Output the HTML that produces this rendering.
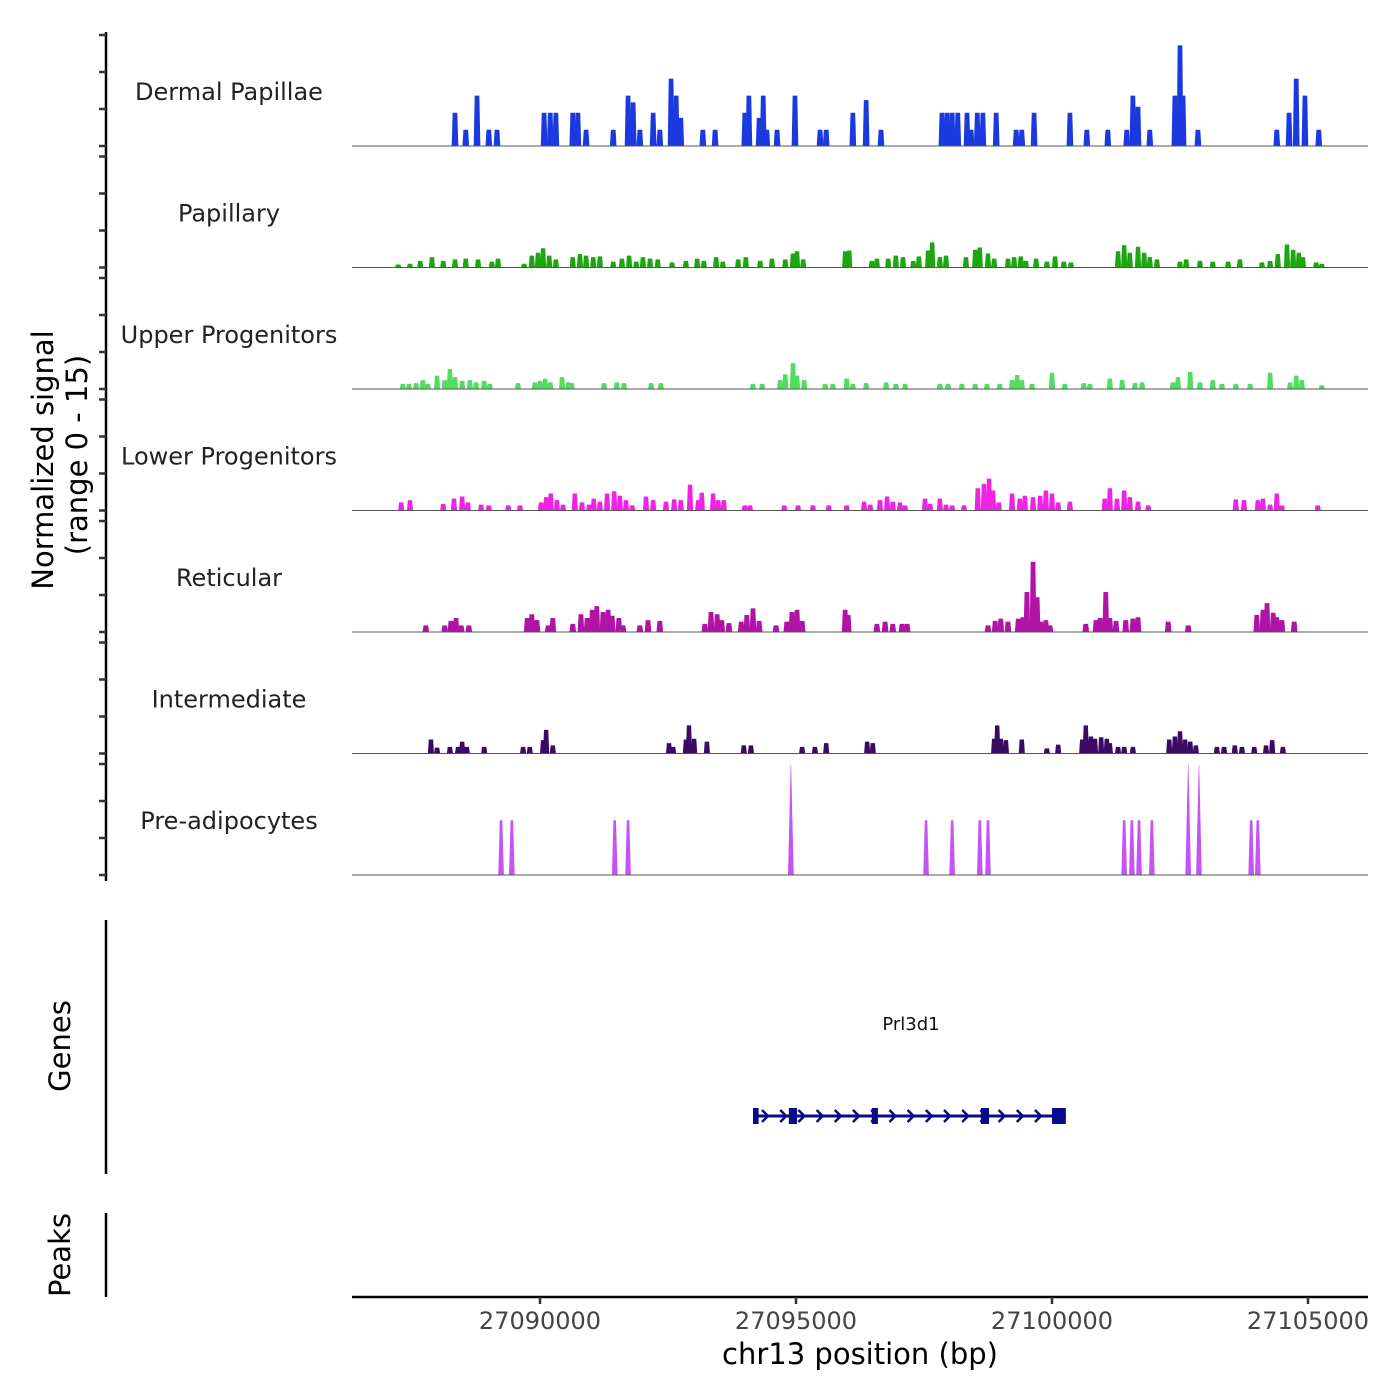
<!DOCTYPE html>
<html><head><meta charset="utf-8">
<style>
html,body{margin:0;padding:0;background:#fff;}
svg{display:block;font-family:"DejaVu Sans","Liberation Sans",sans-serif;}
</style></head>
<body>
<svg id="chart" width="1400" height="1400" viewBox="0 0 1400 1400" xmlns="http://www.w3.org/2000/svg">
<rect width="1400" height="1400" fill="#fff"/>
<g id="tracks"></g>
<line x1="106" y1="32" x2="106" y2="881" stroke="#000" stroke-width="2.5"/>
<g id="yticks"></g>
<text transform="translate(53,460) rotate(-90)" text-anchor="middle" font-size="29" fill="#000">Normalized signal</text>
<text transform="translate(87,455) rotate(-90)" text-anchor="middle" font-size="29" fill="#000">(range 0 - 15)</text>
<line x1="106" y1="920" x2="106" y2="1174" stroke="#000" stroke-width="2.5"/>
<text transform="translate(70,1046) rotate(-90)" text-anchor="middle" font-size="29" fill="#000">Genes</text>
<g id="genes"></g>
<line x1="106" y1="1213" x2="106" y2="1297" stroke="#000" stroke-width="2.5"/>
<text transform="translate(70,1255) rotate(-90)" text-anchor="middle" font-size="29" fill="#000">Peaks</text>
<line x1="352" y1="1297" x2="1368" y2="1297" stroke="#000" stroke-width="2.5"/>
<g id="xticks"></g>
<text x="860" y="1364" text-anchor="middle" font-size="29" fill="#000">chr13 position (bp)</text>
</svg>
<script>
// positions are offsets in kb from 27090000 bp; values are normalized signal (0-15)
const ORIGIN_BP = 27090000;
const trackNames = ["Dermal Papillae","Papillary","Upper Progenitors","Lower Progenitors","Reticular","Intermediate","Pre-adipocytes"];
const trackColors = ["#1a3ae0","#1da610","#52dc62","#ee24e4","#b014a6","#3b0a62","#c355f5"];
const dpPos = [-1.66,-1.45,-1.23,-1.00,-0.84,0.08,0.20,0.31,0.64,0.74,0.90,1.43,1.72,1.82,1.95,2.21,2.34,2.56,2.66,2.75,3.18,3.42,4.00,4.08,4.28,4.36,4.43,4.63,4.98,5.47,5.59,6.11,6.37,6.66,7.85,7.95,8.05,8.16,8.34,8.42,8.54,8.65,8.91,9.30,9.41,9.65,10.35,10.68,11.09,11.46,11.58,11.68,11.91,12.40,12.50,12.56,12.85,14.39,14.63,14.77,14.94,15.21];
const dpVal = [4.5,2.2,6.8,2.2,2.2,4.5,4.5,4.5,4.5,4.5,2.2,2.2,6.8,5.9,2.2,4.5,2.2,9.1,6.8,3.8,2.2,2.2,4.5,6.8,3.8,6.8,2.2,2.2,6.8,2.2,2.2,4.5,6.2,2.2,4.5,4.5,4.5,4.5,4.5,2.2,4.5,4.5,4.5,2.2,2.2,4.5,4.5,2.2,2.2,2.2,6.8,5.3,2.2,6.8,13.6,6.8,2.2,2.2,4.5,9.1,6.8,2.2];
const papPos = [-2.77,-2.54,-2.34,-2.11,-1.89,-1.66,-1.45,-1.21,-0.94,-0.82,-0.31,-0.16,-0.04,0.06,0.18,0.31,0.64,0.78,0.90,1.04,1.17,1.43,1.60,1.74,1.88,2.01,2.15,2.30,2.58,2.85,3.07,3.20,3.44,3.57,3.87,4.02,4.30,4.53,4.79,4.94,5.02,5.14,5.96,6.04,6.48,6.58,6.80,6.95,7.09,7.29,7.40,7.58,7.66,7.81,7.93,8.32,8.50,8.59,8.75,8.87,9.14,9.26,9.39,9.49,9.69,9.90,10.06,10.23,10.37,11.29,11.41,11.52,11.68,11.80,11.91,12.05,12.50,12.62,12.89,13.14,13.44,13.67,14.10,14.26,14.41,14.59,14.71,14.82,14.90,15.16,15.27];
const papVal = [0.4,0.5,0.9,1.4,0.9,1.1,1.2,1.1,0.8,1.2,0.5,1.6,2.0,2.6,1.6,1.1,1.4,1.8,1.6,1.4,1.5,0.8,1.2,1.6,0.8,1.4,1.2,1.1,0.7,0.9,1.2,0.9,1.4,0.8,1.1,1.4,0.9,1.2,1.1,1.9,2.2,1.1,2.2,2.3,0.9,1.2,1.2,1.6,1.4,0.9,1.5,2.3,3.4,1.4,1.6,1.4,2.4,2.7,1.9,1.2,1.2,1.4,1.5,0.9,1.2,0.8,1.5,0.8,0.7,2.2,3.0,2.0,2.8,2.0,1.4,1.1,0.8,1.1,0.9,0.8,0.8,1.1,0.7,0.9,1.8,3.1,2.4,2.0,1.4,0.7,0.5];
const upPos = [-2.68,-2.56,-2.42,-2.29,-2.19,-2.01,-1.86,-1.76,-1.66,-1.52,-1.37,-1.25,-1.09,-0.98,-0.43,-0.10,0,0.10,0.20,0.43,0.55,0.62,1.25,1.50,1.64,2.17,2.36,4.16,4.34,4.69,4.79,4.94,5.02,5.16,5.57,5.72,5.99,6.11,6.37,6.76,6.95,7.13,7.81,7.97,8.24,8.50,8.73,8.98,9.22,9.32,9.41,9.61,10.00,10.25,10.62,10.74,11.13,11.37,11.62,11.76,12.36,12.46,12.70,12.89,13.14,13.32,13.59,13.87,14.26,14.65,14.77,14.88,15.27];
const upVal = [0.7,0.7,0.8,1.2,0.7,1.8,1.2,2.7,1.6,1.1,1.2,0.9,1.1,0.7,0.8,0.9,1.1,1.4,0.9,1.6,0.9,0.8,0.8,0.9,0.8,0.8,0.8,0.7,0.7,1.2,2.0,3.5,1.8,1.2,0.7,0.7,1.4,0.7,0.8,0.9,0.7,0.7,0.7,0.7,0.7,0.7,0.7,0.7,1.2,1.9,1.2,0.7,2.2,0.7,0.8,0.7,1.4,1.2,0.8,0.9,0.9,1.6,2.3,0.9,1.2,0.7,0.7,0.7,2.2,0.9,1.8,1.2,0.5];
const lpPos = [-2.71,-2.54,-1.89,-1.68,-1.52,-1.41,-1.15,-1.00,-0.62,-0.39,0.02,0.12,0.21,0.33,0.45,0.68,0.82,0.96,1.05,1.17,1.31,1.45,1.56,1.68,1.80,2.07,2.21,2.46,2.62,2.75,2.93,3.09,3.16,3.38,3.48,3.59,4.00,4.10,4.77,5.04,5.33,5.64,5.99,6.33,6.45,6.64,6.78,6.89,7.03,7.13,7.52,7.62,7.81,7.93,8.05,8.28,8.55,8.67,8.77,8.85,8.96,9.22,9.37,9.47,9.63,9.77,9.88,10.00,10.12,10.35,11.03,11.13,11.27,11.41,11.52,11.68,11.88,13.59,13.75,14.02,14.12,14.26,14.39,14.49,15.19];
const lpVal = [1.1,1.4,0.9,1.6,1.9,1.1,0.8,0.7,0.7,0.7,1.1,1.8,2.3,1.4,0.8,2.3,1.1,0.8,1.6,1.2,2.3,2.6,2.0,1.4,0.7,1.9,1.4,1.2,1.5,1.4,3.5,1.4,2.4,2.3,1.4,1.4,0.7,0.7,0.7,0.7,0.7,0.7,0.7,1.2,0.8,1.4,1.9,1.2,1.1,0.7,1.6,0.9,1.6,0.8,0.7,0.7,3.0,3.6,4.3,2.7,1.1,2.3,1.6,2.0,1.8,2.0,2.7,2.3,1.1,1.2,1.6,3.0,1.6,2.7,1.8,1.2,0.7,1.5,1.4,1.4,1.6,0.8,2.3,0.7,0.7];
const retPos = [-2.23,-1.86,-1.74,-1.64,-1.54,-1.39,-0.25,-0.16,-0.06,0.16,0.25,0.64,0.80,0.92,1.02,1.11,1.23,1.33,1.41,1.54,1.62,1.95,2.11,2.34,3.22,3.34,3.46,3.55,3.69,3.93,4.04,4.16,4.28,4.61,4.82,4.92,5.02,5.12,5.96,6.02,6.58,6.74,6.89,7.07,7.17,8.75,8.89,9.00,9.14,9.34,9.43,9.51,9.63,9.71,9.78,9.88,9.96,10.66,10.86,10.94,11.05,11.13,11.25,11.44,11.58,11.68,12.27,12.66,14.00,14.12,14.20,14.32,14.39,14.49,14.73];
const retVal = [0.9,0.9,1.5,1.9,0.9,0.9,1.9,2.4,1.6,0.9,1.9,1.1,2.4,1.9,3.0,3.5,2.7,3.0,2.2,1.9,0.9,0.9,1.6,1.5,1.1,2.7,2.4,1.6,1.2,1.4,2.3,3.2,1.5,0.9,1.4,2.7,3.0,1.5,3.0,2.3,1.1,1.4,1.1,1.1,1.1,0.9,1.5,1.8,1.4,1.8,2.0,5.4,9.5,4.7,1.4,1.6,0.9,1.1,1.6,1.9,5.4,1.9,1.5,1.6,1.8,2.0,1.4,0.9,2.3,3.0,3.9,2.6,2.0,1.6,1.4];
const intPos = [-2.13,-2.01,-1.76,-1.60,-1.52,-1.43,-1.09,-0.33,-0.20,0.06,0.12,0.25,2.52,2.60,2.85,2.91,3.01,3.26,3.98,4.12,5.12,5.37,5.59,6.39,6.50,8.87,8.93,9.00,9.10,9.41,9.90,10.12,10.59,10.66,10.76,10.84,10.96,11.07,11.13,11.29,11.41,11.58,12.29,12.40,12.50,12.60,12.70,12.81,13.22,13.36,13.57,13.71,13.95,14.18,14.30,14.51];
const intVal = [1.9,0.8,0.9,0.9,1.6,0.9,0.9,0.9,0.9,1.8,3.2,1.1,1.4,0.9,1.9,3.8,2.0,1.6,1.1,1.1,0.9,0.9,1.4,1.6,1.4,2.0,3.8,2.0,1.8,1.9,0.7,1.2,1.9,3.8,2.3,2.0,2.2,2.0,1.4,0.9,0.9,0.9,1.9,2.3,3.0,1.9,1.6,1.1,0.9,0.9,1.1,0.9,0.9,1.1,1.8,0.9];
const prePos = [-0.76,-0.55,1.46,1.72,4.90,4.90,7.54,8.05,8.59,8.75,11.41,11.56,11.70,11.95,12.66,12.87,13.89,14.02];
const preVal = [7.4,7.4,7.4,7.4,7.4,14.9,7.4,7.4,7.4,7.4,7.4,7.4,7.4,7.4,14.9,14.9,7.4,7.4];
const trackPos = [dpPos,papPos,upPos,lpPos,retPos,intPos,prePos];
const trackVal = [dpVal,papVal,upVal,lpVal,retVal,intVal,preVal];
const binKb = [0.13,0.12,0.12,0.12,0.13,0.12,0.11];
const yTickVals = [0,5,10,15];
const xTickVals = [27090000,27095000,27100000,27105000];
const geneName = "Prl3d1";
const geneStartKb = 4.16;
const geneEndKb = 10.27;
const exonStartKb = [4.16,4.86,6.48,8.61,10.00];
const exonEndKb = [4.27,5.02,6.60,8.77,10.27];

const NS = "http://www.w3.org/2000/svg";
const X0 = 540, PX_PER_BP = 0.0512;
function xScale(bp){ return X0 + (bp - ORIGIN_BP) * PX_PER_BP; }
function kbToBp(k){ return ORIGIN_BP + k*1000; }
const base0 = 146, trackH = 121.5, PX_PER_UNIT = 7.4;
function baseY(i){ return base0 + i*trackH; }
function yScale(i,v){ return baseY(i) - v*PX_PER_UNIT; }
function mk(tag, attrs, parent){ const e=document.createElementNS(NS,tag); for(const k in attrs) e.setAttribute(k,attrs[k]); parent.appendChild(e); return e; }

const tracks = document.getElementById('tracks');
const yt = document.getElementById('yticks');
trackNames.forEach((name,i)=>{
  const g = mk('g',{},tracks);
  
  
  const lab = mk('text',{x:229,y:baseY(i)-46,'text-anchor':'middle','font-size':24,fill:'#222'},g);
  lab.textContent = name;
  
  
  const pos = trackPos[i], val = trackVal[i];
  const halfW = binKb[i]*1000/2;
  pos.forEach((p,j)=>{
    const c = kbToBp(p);
    const xl = xScale(c-halfW), xr = xScale(c+halfW);
    const topFrac = (i===6) ? (val[j]>10 ? 0.08 : 0.45) : 0.7;
    const xtl = xScale(c-halfW*topFrac), xtr = xScale(c+halfW*topFrac);
    const yb = baseY(i), yt2 = yScale(i,val[j]);
    const poly = mk('polygon',{points:`${xl},${yb} ${xtl},${yt2} ${xtr},${yt2} ${xr},${yb}`,fill:trackColors[i]},g);
    
    
  });
  const bl = mk('line',{x1:352,x2:1368,y1:baseY(i),y2:baseY(i),stroke:'#555','stroke-width':1},g);
  
  
  yTickVals.forEach(v=>{
    const t = mk('line',{x1:99,x2:106,y1:yScale(i,v),y2:yScale(i,v),stroke:'#333','stroke-width':2.5},yt);
    
    
  });
});

const xt = document.getElementById('xticks');
xTickVals.forEach(v=>{
  const x = xScale(v);
  const t = mk('line',{x1:x,x2:x,y1:1297,y2:1304,stroke:'#333','stroke-width':2.5},xt);
  
  
  const l = mk('text',{x:x,y:1329,'text-anchor':'middle','font-size':24,fill:'#444'},xt);
  l.textContent = String(v);
  
  
});

const gg = document.getElementById('genes');
const gy = 1116, gcol = '#0a0a8a';
const gl = mk('text',{x:911,y:1030,'text-anchor':'middle','font-size':18,fill:'#111'},gg);
gl.textContent = geneName;


const gx1 = xScale(kbToBp(geneStartKb)), gx2 = xScale(kbToBp(geneEndKb));
const gline = mk('line',{x1:gx1,x2:gx2,y1:gy,y2:gy,stroke:gcol,'stroke-width':3},gg);


for(let x=gx1+14; x<gx2-6; x+=18.2){
  const a = mk('polyline',{points:`${x-5},${gy-6} ${x+1},${gy} ${x-5},${gy+6}`,fill:'none',stroke:gcol,'stroke-width':2.5},gg);
  
  
}
exonStartKb.forEach((s,k)=>{
  const x1 = xScale(kbToBp(s)), x2 = xScale(kbToBp(exonEndKb[k]));
  const ex = mk('rect',{x:x1,y:gy-8,width:Math.max(4,x2-x1),height:16,fill:gcol},gg);
  
  
});
</script>
</body></html>
